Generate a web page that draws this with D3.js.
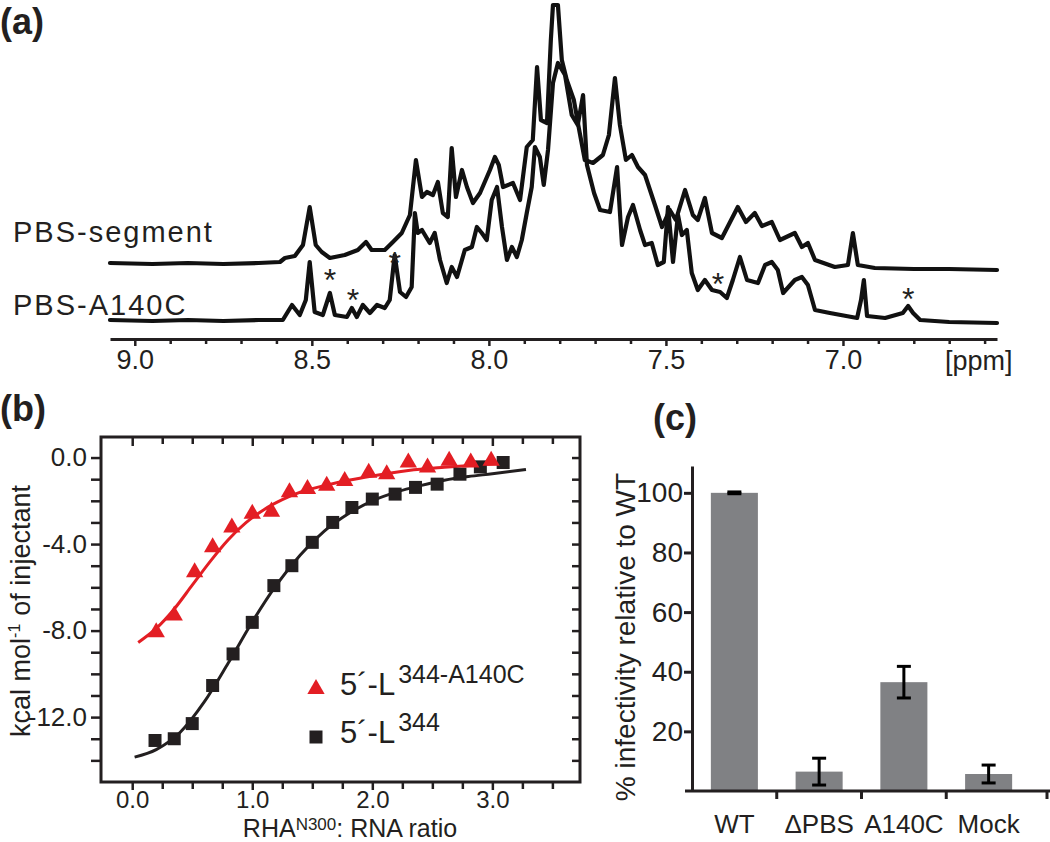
<!DOCTYPE html>
<html><head><meta charset="utf-8">
<script src="https://cdn.jsdelivr.net/npm/d3@7"></script>
<style>
html,body{margin:0;padding:0;background:#fff;}
svg text{font-family:"Liberation Sans",Arial,Helvetica,sans-serif;fill:#231f20;}
</style></head><body>
<svg id="fig" width="1050" height="842"></svg>
<script>
// ---------- Panel (a): 1H NMR spectra (ppm, intensity in arbitrary units) ----------
const segPpm = [9.07,8.95,8.85,8.75,8.65,8.59,8.576,8.548,8.525,8.506,8.489,8.472,8.449,8.407,8.370,8.347,8.331,8.294,8.271,8.246,8.223,8.206,8.189,8.175,8.158,8.144,8.130,8.116,8.105,8.093,8.076,8.062,8.045,8.025,7.997,7.983,7.972,7.960,7.932,7.912,7.893,7.876,7.864,7.853,7.836,7.825,7.819,7.805,7.794,7.780,7.760,7.746,7.729,7.706,7.678,7.661,7.644,7.630,7.613,7.596,7.579,7.559,7.531,7.511,7.489,7.472,7.446,7.424,7.410,7.390,7.370,7.342,7.297,7.274,7.249,7.229,7.201,7.178,7.136,7.116,7.099,7.079,7.023,6.986,6.972,6.958,6.910,6.80,6.70,6.565];
const segInt = [76,75,76,75,76,77,81,83,94,132,94,87,81,84,89,97,89,89,97,106,124,179,142,147,144,157,126,122,191,142,169,152,136,146,169,182,174,152,156,139,192,199,272,219,216,299,334,334,279,259,239,211,179,176,184,204,261,214,179,184,172,164,134,112,129,119,149,124,119,141,106,101,132,117,126,113,117,99,106,92,96,79,72,74,106,74,71,70,70,69];

const mutPpm = [9.07,8.95,8.85,8.75,8.65,8.582,8.556,8.534,8.517,8.506,8.492,8.469,8.449,8.435,8.401,8.387,8.373,8.356,8.336,8.316,8.294,8.280,8.266,8.251,8.234,8.218,8.209,8.201,8.189,8.167,8.153,8.138,8.119,8.105,8.090,8.068,8.048,8.034,8.020,8.006,7.992,7.977,7.963,7.949,7.935,7.921,7.907,7.893,7.879,7.870,7.856,7.845,7.833,7.819,7.805,7.785,7.766,7.749,7.734,7.723,7.703,7.686,7.658,7.638,7.624,7.607,7.593,7.573,7.559,7.540,7.523,7.506,7.494,7.480,7.466,7.455,7.441,7.427,7.410,7.390,7.370,7.347,7.328,7.311,7.291,7.271,7.240,7.220,7.201,7.184,7.169,7.136,7.116,7.099,7.079,7.037,6.960,6.949,6.941,6.932,6.881,6.831,6.816,6.802,6.782,6.70,6.565];
const mutInt = [19,18,19,18,19,19,34,24,39,77,27,24,46,24,22,31,22,34,26,34,31,39,84,47,42,52,126,106,109,96,106,79,56,72,62,89,92,112,106,99,139,152,112,79,92,82,99,126,152,192,182,154,189,256,276,264,224,214,244,174,146,129,127,172,94,122,134,109,94,96,74,77,132,77,124,104,109,66,49,59,49,47,41,59,82,59,56,74,77,69,46,59,62,54,29,26,21,39,59,23,21,26,33,26,19,17,16];

const starPpm = [8.449, 8.384, 8.266, 7.353, 6.816];
const starInt = [66, 46, 83, 62, 47];
const spectrumLabels = ["PBS-segment", "PBS-A140C"];
const ppmTickLabels = ["9.0","8.5","8.0","7.5","7.0"];

// ---------- Panel (b): ITC titration ----------
const ratioTri = [0.20,0.35,0.52,0.67,0.83,1.00,1.16,1.31,1.46,1.62,1.77,1.97,2.12,2.30,2.46,2.64,2.82,2.99];
const heatTri  = [-8.08,-7.3,-5.3,-4.15,-3.23,-2.6,-2.5,-1.6,-1.45,-1.3,-1.08,-0.7,-0.77,-0.23,-0.46,-0.15,-0.23,-0.15];
const ratioSq  = [0.19,0.35,0.50,0.67,0.84,1.00,1.18,1.33,1.50,1.67,1.83,2.00,2.19,2.36,2.54,2.73,2.90,3.09];
const heatSq   = [-13.08,-13.0,-12.3,-10.54,-9.08,-7.62,-5.92,-5.0,-3.92,-3.0,-2.31,-1.92,-1.69,-1.38,-1.23,-0.77,-0.43,-0.23];
const fitTriX = [0.05,0.2,0.35,0.5,0.65,0.8,0.95,1.1,1.25,1.4,1.6,1.8,2.0,2.3,2.6,2.9,3.06];
const fitTriY = [-8.55,-7.9,-7.0,-5.9,-4.8,-3.8,-3.0,-2.4,-1.95,-1.6,-1.3,-1.05,-0.85,-0.6,-0.45,-0.33,-0.28];
const fitSqX  = [0.02,0.2,0.4,0.6,0.8,1.0,1.2,1.4,1.6,1.8,2.0,2.2,2.4,2.6,2.8,3.0,3.28];
const fitSqY  = [-13.85,-13.5,-12.7,-11.3,-9.5,-7.6,-5.9,-4.5,-3.4,-2.6,-2.0,-1.6,-1.3,-1.05,-0.88,-0.75,-0.55];
const legendNames = [["5´-L","344-A140C"],["5´-L","344"]];

// ---------- Panel (c): infectivity ----------
const variants = ["WT","ΔPBS","A140C","Mock"];
const infectivity = [100, 6.5, 36.5, 5.7];
const infectErr = [0.3, 4.5, 5.3, 3.0];
const pctTicks = [20,40,60,80,100];

const RED = "#e31e24", INK = "#231f20", BAR = "#808184";
const svg = d3.select("#fig");

// ===== Panel (a) =====
const gA = svg.append("g");
const xA = d3.scaleLinear().domain([9.07, 6.565]).range([110, 997]);
const yA = d3.scaleLinear().domain([0, 339]).range([339, 0]);
const lineA = d3.line().x(d => xA(d[0])).y(d => yA(d[1]));
[[segPpm, segInt],[mutPpm, mutInt]].forEach(([p, v]) => {
  gA.append("path").datum(p.map((d,i)=>[d, v[i]]))
    .attr("d", lineA).attr("fill","none").attr("stroke","#111")
    .attr("stroke-width",4.2).attr("stroke-linejoin","round").attr("stroke-linecap","round");
});
gA.selectAll("text.star").data(starPpm).join("text").attr("class","star")
  .attr("x", d => xA(d)).attr("y", (d,i) => yA(starInt[i]) + 18)
  .attr("text-anchor","middle").attr("font-size",32).text("*");

const minorPpm = d3.range(66, 91).map(v => v/10);
const axA = gA.append("g").attr("transform","translate(0,339)")
  .call(d3.axisBottom(xA).tickValues(minorPpm).tickSizeOuter(0).tickPadding(5)
    .tickFormat(d => { const k = Math.round(d*10); return k % 5 === 0 ? ppmTickLabels[(90-k)/5] : ""; }));
axA.select(".domain").attr("stroke", INK).attr("stroke-width",3);
axA.selectAll(".tick line").attr("stroke",INK).attr("stroke-width",2.5)
  .attr("y2", d => Math.round(d*10)%5===0 ? 7 : 5);
axA.selectAll(".tick text").attr("font-size",27).attr("fill",INK).attr("y",11);
gA.append("text").attr("x",945).attr("y",370).attr("font-size",27).text("[ppm]");
gA.append("text").attr("x",13).attr("y",242).attr("font-size",29).attr("letter-spacing",2).text(spectrumLabels[0]);
gA.append("text").attr("x",13).attr("y",315).attr("font-size",29).attr("letter-spacing",2).text(spectrumLabels[1]);
svg.append("text").attr("x",0).attr("y",34).attr("font-size",36).attr("font-weight","bold").text("(a)");

// ===== Panel (b) =====
const gB = svg.append("g");
const xB = d3.scaleLinear().domain([-0.26, 3.73]).range([101, 580]);
const yB = d3.scaleLinear().domain([-15, 0.95]).range([782, 437]);
const qTicks = d3.range(0, 3.75, 0.25);
const hTicks = d3.range(-14, 1);
const isMaj = d => Number.isInteger(d);

const bAx = gB.append("g").attr("transform",`translate(0,${yB(-15)})`)
  .call(d3.axisBottom(xB).tickValues(qTicks).tickSizeOuter(0).tickPadding(5)
    .tickFormat(d => isMaj(d) ? d.toFixed(1) : ""));
bAx.selectAll(".tick line").attr("y2", d => isMaj(d) ? 8 : 7);
const tAx = gB.append("g").attr("transform",`translate(0,${yB(0.95)})`)
  .call(d3.axisTop(xB).tickValues(qTicks).tickSizeOuter(0).tickFormat(""));
tAx.selectAll(".tick line").attr("y2", d => isMaj(d) ? 9 : 7);
const lAx = gB.append("g").attr("transform",`translate(${xB(-0.26)},0)`)
  .call(d3.axisLeft(yB).tickValues(hTicks).tickSize(10).tickSizeOuter(0).tickPadding(4)
    .tickFormat(d => d % 4 === 0 ? d.toFixed(1) : ""));
const rAx = gB.append("g").attr("transform",`translate(${xB(3.73)},0)`)
  .call(d3.axisRight(yB).tickValues(hTicks).tickSize(-8).tickSizeOuter(0).tickFormat(""));
[bAx,tAx,lAx,rAx].forEach(a => {
  a.select(".domain").remove();
  a.selectAll(".tick line").attr("stroke",INK).attr("stroke-width",2.5);
  a.selectAll(".tick text").attr("font-size",26).attr("fill",INK);
});
bAx.selectAll(".tick text").attr("font-size",24).attr("y", 9).attr("dy", 0).attr("dominant-baseline","auto")
  .attr("transform", "translate(0,17)");
gB.append("rect").attr("x",xB(-0.26)).attr("y",yB(0.95))
  .attr("width",xB(3.73)-xB(-0.26)).attr("height",yB(-15)-yB(0.95))
  .attr("fill","none").attr("stroke",INK).attr("stroke-width",3);

const lineB = d3.line().x(d => xB(d[0])).y(d => yB(d[1])).curve(d3.curveMonotoneX);
gB.append("path").datum(fitSqX.map((x,i)=>[x, fitSqY[i]])).attr("d",lineB)
  .attr("fill","none").attr("stroke",INK).attr("stroke-width",3);
gB.append("path").datum(fitTriX.map((x,i)=>[x, fitTriY[i]])).attr("d",lineB)
  .attr("fill","none").attr("stroke",RED).attr("stroke-width",3);
const sq = d3.symbol(d3.symbolSquare, 169);
const tri = d3.symbol(d3.symbolTriangle, 130);
gB.selectAll("path.sq").data(ratioSq).join("path").attr("class","sq")
  .attr("d", sq).attr("fill", INK)
  .attr("transform",(d,i)=>`translate(${xB(d)},${yB(heatSq[i])})`);
gB.selectAll("path.tri").data(ratioTri).join("path").attr("class","tri")
  .attr("d", tri).attr("fill", RED)
  .attr("transform",(d,i)=>`translate(${xB(d)},${yB(heatTri[i])})`);

// legend
gB.append("path").attr("d", tri).attr("fill",RED).attr("transform","translate(316,689)");
gB.append("path").attr("d", sq).attr("fill",INK).attr("transform","translate(316,737)");
[[695, legendNames[0]],[743, legendNames[1]]].forEach(([y, nm]) => {
  const t = gB.append("text").attr("x",340).attr("y",y).attr("font-size",31);
  t.append("tspan").text(nm[0]);
  t.append("tspan").attr("dy",-12).attr("dx",3).attr("font-size",25).text(nm[1]);
});

// axis titles
const xt = gB.append("text").attr("x",350).attr("y",837).attr("text-anchor","middle").attr("font-size",25);
xt.append("tspan").text("RHA");
xt.append("tspan").attr("dy",-7).attr("font-size",17).text("N300");
xt.append("tspan").attr("dy",7).text(": RNA ratio");
const yt = gB.append("text").attr("transform","translate(30,611) rotate(-90)").attr("text-anchor","middle").attr("font-size",27);
yt.append("tspan").text("kcal mol");
yt.append("tspan").attr("dy",-10).attr("font-size",16).text("-1");
yt.append("tspan").attr("dy",10).attr("dx",8).text("of injectant");
svg.append("text").attr("x",0).attr("y",421).attr("font-size",36).attr("font-weight","bold").text("(b)");

// ===== Panel (c) =====
const gC = svg.append("g");
const xC = d3.scaleBand().domain(variants).range([692, 1031]).paddingInner(0.445).paddingOuter(0.2225);
const yC = d3.scaleLinear().domain([0, 109]).range([791, 466]);
gC.selectAll("rect.bar").data(variants).join("rect").attr("class","bar")
  .attr("x", d => xC(d)).attr("width", xC.bandwidth())
  .attr("y", (d,i) => yC(infectivity[i])).attr("height", (d,i) => yC(0) - yC(infectivity[i]))
  .attr("fill", BAR);
variants.forEach((d,i) => {
  const cx = xC(d) + xC.bandwidth()/2, lo = yC(infectivity[i]-infectErr[i]), hi = yC(infectivity[i]+infectErr[i]);
  const g = gC.append("g").attr("stroke","#000").attr("stroke-width",3);
  g.append("line").attr("x1",cx).attr("x2",cx).attr("y1",lo).attr("y2",hi);
  g.append("line").attr("x1",cx-7).attr("x2",cx+7).attr("y1",lo).attr("y2",lo);
  g.append("line").attr("x1",cx-7).attr("x2",cx+7).attr("y1",hi).attr("y2",hi);
});
const cAx = gC.append("g").attr("transform","translate(692,0)")
  .call(d3.axisLeft(yC).tickValues(pctTicks).tickSize(8).tickSizeOuter(0).tickPadding(1));
cAx.select(".domain").attr("stroke",INK).attr("stroke-width",3);
cAx.selectAll(".tick line").attr("stroke",INK).attr("stroke-width",3);
cAx.selectAll(".tick text").attr("font-size",28).attr("fill",INK);
gC.append("line").attr("x1",685).attr("x2",1050).attr("y1",yC(0)).attr("y2",yC(0))
  .attr("stroke",INK).attr("stroke-width",3);
const sepX = variants.slice(1).map((d,i) => (xC(variants[i]) + xC.bandwidth() + xC(d)) / 2).concat([1047]);
gC.selectAll("line.sep").data(sepX).join("line").attr("class","sep")
  .attr("x1", d => d).attr("x2", d => d).attr("y1", yC(0)).attr("y2", yC(0)+8)
  .attr("stroke",INK).attr("stroke-width",3);
gC.selectAll("text.cat").data(variants).join("text").attr("class","cat")
  .attr("x", d => xC(d) + xC.bandwidth()/2).attr("y", 833)
  .attr("text-anchor","middle").attr("font-size",26).text(d => d);
gC.append("text").attr("transform","translate(635,637) rotate(-90)").attr("text-anchor","middle")
  .attr("font-size",28).text("% infectivity relative to WT");
svg.append("text").attr("x",653).attr("y",430).attr("font-size",36).attr("font-weight","bold").text("(c)");
</script>
</body></html>
